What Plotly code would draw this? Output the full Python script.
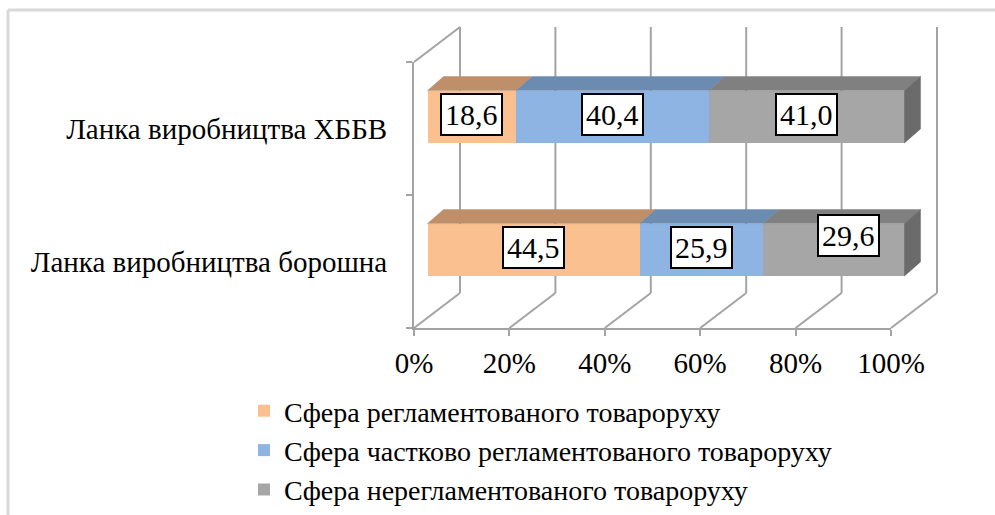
import plotly.graph_objects as go

# ---- data ----
categories = ["Ланка виробництва борошна", "Ланка виробництва ХББВ"]
series_names = [
    "Сфера регламентованого товароруху",
    "Сфера частково регламентованого товароруху",
    "Сфера нерегламентованого товароруху",
]
regulated = [44.5, 18.6]
partly_regulated = [25.9, 40.4]
unregulated = [29.6, 41.0]
series_values = [regulated, partly_regulated, unregulated]
label_texts = [["44,5", "18,6"], ["25,9", "40,4"], ["29,6", "41,0"]]
tick_values = [0, 20, 40, 60, 80, 100]
tick_labels = ["0%", "20%", "40%", "60%", "80%", "100%"]

# ---- style ----
W, H = 995, 515
FONT = "Liberation Serif"
FS = 29
front_cols = ["#FAC090", "#8DB4E2", "#A6A6A6"]
top_cols = ["#BF8F6A", "#6C8BB0", "#808080"]
side_col = "#6B6B6B"
grid_col = "#A3A3A3"

fx0, fx1 = 414, 891
fy_bot, fy_top = 328, 62
bdx, bdy = 13.5, -11.75
wdx, wdy = 46, -35
ddx_px, ddy_px = 16, -14
bar_width = 0.393

def px(xp):
    return xp / W

def py(yp):
    return 1 - yp / H

xa_dom = [px(fx0), px(fx1)]
ya_dom = [py(fy_bot), py(fy_top)]
ppx = (fx1 - fx0) / 100.0
ppy = (fy_bot - fy_top) / 2.0

x2_range = [-5, 112]
x2_dom = [px(fx0 + bdx + x2_range[0] * ppx), px(fx0 + bdx + x2_range[1] * ppx)]
y2_dom = [py(fy_bot + bdy), py(fy_top + bdy)]

ddx = ddx_px / ppx
ddy = -ddy_px / ppy
cat_idx = list(range(len(categories)))

fig = go.Figure()

for i, (name, vals) in enumerate(zip(series_names, series_values)):
    fig.add_trace(go.Bar(
        name=name, y=cat_idx, x=vals, orientation="h",
        marker=dict(color=front_cols[i], line=dict(width=0)),
        width=bar_width, xaxis="x2", yaxis="y2",
        legendgroup=f"g{i}", hoverinfo="skip",
    ))

cum = [0.0 for _ in categories]
for i, vals in enumerate(series_values):
    xs, ys = [], []
    for j, v in enumerate(vals):
        x0 = cum[j]
        x1 = cum[j] + v
        yt = j + bar_width / 2
        xs += [x0, x1, x1 + ddx, x0 + ddx, x0, None]
        ys += [yt, yt, yt + ddy, yt + ddy, yt, None]
    fig.add_trace(go.Scatter(
        x=xs, y=ys, mode="lines", fill="toself", fillcolor=top_cols[i],
        line=dict(width=0.5, color=top_cols[i]), xaxis="x2", yaxis="y2",
        showlegend=False, hoverinfo="skip",
    ))
    cum = [c + v for c, v in zip(cum, vals)]

xs, ys = [], []
for j in cat_idx:
    xe = cum[j]
    yb = j - bar_width / 2
    yt = j + bar_width / 2
    xs += [xe, xe + ddx, xe + ddx, xe, xe, None]
    ys += [yb, yb + ddy, yt + ddy, yt, yb, None]
fig.add_trace(go.Scatter(
    x=xs, y=ys, mode="lines", fill="toself", fillcolor=side_col,
    line=dict(width=0.5, color=side_col), xaxis="x2", yaxis="y2",
    showlegend=False, hoverinfo="skip",
))

fig.add_trace(go.Scatter(x=[0, 100], y=categories, mode="markers",
                         marker=dict(opacity=0), showlegend=False,
                         hoverinfo="skip", xaxis="x", yaxis="y"))

cum = [0.0 for _ in categories]
for i, vals in enumerate(series_values):
    for j, v in enumerate(vals):
        mid = cum[j] + v / 2
        xs_, ys_ = 0, 2
        if i == 2 and j == 0:
            xs_, ys_ = 15, 14
        fig.add_annotation(
            x=mid, y=j, xref="x2", yref="y2", text=label_texts[i][j],
            showarrow=False, font=dict(family=FONT, size=30, color="black"),
            bgcolor="white", bordercolor="black", borderwidth=2, borderpad=3,
            xshift=xs_, yshift=ys_,
        )
    cum = [c + v for c, v in zip(cum, vals)]

shapes = []
wx = wdx / (fx1 - fx0)
wy = -wdy / (fy_bot - fy_top)
for tv in tick_values:
    d = tv / 100.0
    shapes.append(dict(type="line", xref="x domain", yref="y domain",
                       x0=d + wx, x1=d + wx, y0=wy, y1=1 + wy,
                       line=dict(color=grid_col, width=2), layer="below"))
    shapes.append(dict(type="line", xref="x domain", yref="y domain",
                       x0=d, x1=d + wx, y0=0, y1=wy,
                       line=dict(color=grid_col, width=2), layer="below"))
shapes.append(dict(type="line", xref="x domain", yref="y domain",
                   x0=0, x1=wx, y0=1, y1=1 + wy,
                   line=dict(color=grid_col, width=2), layer="below"))
shapes.append(dict(type="line", xref="paper", yref="paper",
                   x0=px(8), x1=1.0, y0=py(10), y1=py(10),
                   line=dict(color="#D9D9D9", width=3)))
shapes.append(dict(type="line", xref="paper", yref="paper",
                   x0=px(8), x1=px(8), y0=py(10), y1=0,
                   line=dict(color="#D9D9D9", width=3)))

fig.update_layout(
    width=W, height=H, autosize=False,
    margin=dict(l=0, r=0, t=0, b=0, pad=0),
    paper_bgcolor="white", plot_bgcolor="rgba(0,0,0,0)",
    barmode="stack", showlegend=True,
    font=dict(family=FONT, size=FS, color="black"),
    shapes=shapes,
    xaxis=dict(domain=xa_dom, range=[0, 100], anchor="y",
               tickvals=tick_values, ticktext=tick_labels,
               showgrid=False, zeroline=False, showline=True,
               linecolor=grid_col, linewidth=2, ticks="outside",
               ticklen=6, tickwidth=2, tickcolor=grid_col,
               tickfont=dict(family=FONT, size=FS, color="black"),
               ticklabelstandoff=2, automargin=False, fixedrange=True),
    yaxis=dict(domain=ya_dom, range=[-0.5, 1.5], anchor="x", type="category",
               categoryorder="array", categoryarray=categories,
               showgrid=False, zeroline=False, showline=True,
               linecolor=grid_col, linewidth=2, ticks="outside",
               tickson="boundaries", ticklen=6, tickwidth=2, tickcolor=grid_col,
               tickfont=dict(family=FONT, size=FS, color="black"),
               ticklabelstandoff=19, automargin=False, fixedrange=True),
    xaxis2=dict(domain=x2_dom, range=x2_range, anchor="y2", visible=False,
                fixedrange=True),
    yaxis2=dict(domain=y2_dom, range=[-0.5, 1.5], anchor="x2", type="linear",
                visible=False, fixedrange=True),
    legend=dict(x=px(244), y=0, xanchor="left", yanchor="bottom",
                orientation="v", traceorder="grouped", tracegroupgap=0,
                font=dict(family=FONT, size=28, color="black"),
                bgcolor="rgba(0,0,0,0)"),
)

fig.write_html("out.html", config={"displayModeBar": False},
               post_script="document.body.style.margin='0px';")
